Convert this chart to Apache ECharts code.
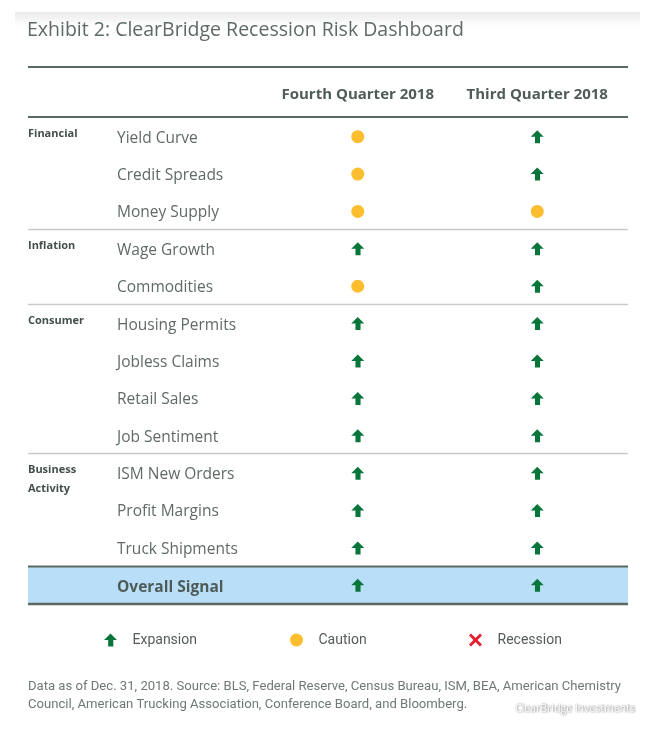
<!DOCTYPE html>
<html><head><meta charset="utf-8">
<script src="https://cdn.jsdelivr.net/npm/echarts@6/dist/echarts.min.js"></script>
<style>html,body{margin:0;padding:0;background:#fff}#c{width:663px;height:734px}</style>
</head><body><div id="c"></div>
<script>
// ---- data ----
const indicators = ['Yield Curve','Credit Spreads','Money Supply','Wage Growth','Commodities','Housing Permits','Jobless Claims','Retail Sales','Job Sentiment','ISM New Orders','Profit Margins','Truck Shipments','Overall Signal'];
const quarters = ['Fourth Quarter 2018','Third Quarter 2018'];
const q4Signals = ['Caution','Caution','Caution','Expansion','Caution','Expansion','Expansion','Expansion','Expansion','Expansion','Expansion','Expansion','Expansion'];
const q3Signals = ['Expansion','Expansion','Caution','Expansion','Expansion','Expansion','Expansion','Expansion','Expansion','Expansion','Expansion','Expansion','Expansion'];
const signalTypes = ['Expansion','Caution','Recession'];
const groupNames = ['Financial','Inflation','Consumer','Business\nActivity'];
const groupFirstRows = ['Yield Curve','Wage Growth','Housing Permits','ISM New Orders'];
const summaryRow = 'Overall Signal';
const titleText = 'Exhibit 2: ClearBridge Recession Risk Dashboard';
const noteLines = ['Data as of Dec. 31, 2018. Source: BLS, Federal Reserve, Census Bureau, ISM, BEA, American Chemistry','Council, American Trucking Association, Conference Board, and Bloomberg.'];
const brandText = 'ClearBridge Investments';

// ---- styles ----
const ARROW = 'path://M6,0L12.5,6.5L8.8,6.5L8.8,13L3.7,13L3.7,6.5L-0.5,6.5Z';
const CROSS = 'path://M0,1.6L1.6,0L5,3.4L8.4,0L10,1.6L6.6,5L10,8.4L8.4,10L5,6.6L1.6,10L0,8.4L3.4,5Z';
const signalStyle = {
  Expansion: {symbol: ARROW, size: [13, 13], color: '#08763a'},
  Caution: {symbol: 'circle', size: 13, color: '#fcbd2f'},
  Recession: {symbol: CROSS, size: 11, color: '#e5202e'}
};
const legendLefts = [99, 285, 464];
const TXT = '#5f6a67';
const RULE = '#5b6965';
const FONT = '"Open Sans", "Noto Sans", sans-serif';
const NARROW = 'Roboto, "Liberation Sans", sans-serif';

const series = signalTypes.map(t => {
  const data = [];
  indicators.forEach((ind, i) => {
    if (q4Signals[i] === t) data.push([quarters[0], ind]);
    if (q3Signals[i] === t) data.push([quarters[1], ind]);
  });
  return {
    type: 'scatter', name: t, data,
    symbol: signalStyle[t].symbol, symbolSize: signalStyle[t].size,
    symbolKeepAspect: true,
    itemStyle: {color: signalStyle[t].color, opacity: 1},
    emphasis: {disabled: true}, z: 5
  };
});

const chart = echarts.init(document.getElementById('c'), null, {renderer: 'canvas'});
chart.setOption({
  animation: false,
  backgroundColor: '#fff',
  title: {text: titleText, left: 22, top: 15,
    textStyle: {fontFamily: FONT, fontSize: 19.5, fontWeight: 'normal', color: '#5e6a67'}},
  grid: {left: 268, right: 36, top: 118, bottom: 130, outerBoundsMode: 'none', containLabel: false},
  xAxis: {type: 'category', data: quarters, position: 'top',
    axisLine: {show: false}, axisTick: {show: false}, splitLine: {show: false},
    axisLabel: {interval: 0, margin: 16, fontFamily: FONT, fontSize: 15, fontWeight: 'bold', color: '#4f5c59'}},
  yAxis: {type: 'category', data: indicators, inverse: true,
    axisLine: {show: false}, axisTick: {show: false}, splitLine: {show: false},
    axisLabel: {interval: 0, margin: 151, align: 'left', fontFamily: FONT, fontSize: 15.5, color: TXT,
      padding: [3, 0, 0, 0],
      formatter: v => v === summaryRow ? '{b|' + v + '}' : v,
      rich: {b: {fontFamily: FONT, fontSize: 15.5, fontWeight: 'bold', color: '#4d5a57', padding: [2, 0, 0, 0]}}}},
  legend: signalTypes.map((t, i) => ({
    data: [{name: t, icon: signalStyle[t].symbol === 'circle' ? 'circle' : signalStyle[t].symbol}],
    top: 628, left: legendLefts[i], itemWidth: 34, itemHeight: 13,
    selectedMode: false,
    textStyle: {fontFamily: NARROW, fontSize: 14, color: '#555c5a'}
  })),
  series
});

// decorations derived from axis scale
const yOf = name => chart.convertToPixel({yAxisIndex: 0}, name);
const band = yOf(indicators[1]) - yOf(indicators[0]);
const L = 28, R = 628;
const g = [];
g.push({type: 'rect', z: -20, shape: {x: 15, y: 12, width: 625, height: 14},
  style: {fill: new echarts.graphic.LinearGradient(0, 0, 0, 1, [{offset: 0, color: '#e9eaea'}, {offset: 1, color: '#ffffff'}])}});
g.push({type: 'line', shape: {x1: L, y1: 67, x2: R, y2: 67}, style: {stroke: RULE, lineWidth: 2}});
const topY = yOf(indicators[0]) - band / 2;
g.push({type: 'line', shape: {x1: L, y1: topY - 1, x2: R, y2: topY - 1}, style: {stroke: RULE, lineWidth: 2}});
groupFirstRows.forEach((r, i) => {
  const c = yOf(r);
  if (i > 0) {
    const by = Math.round(c - band / 2) - 0.5;
    g.push({type: 'line', shape: {x1: L, y1: by, x2: R, y2: by}, style: {stroke: '#c9cccb', lineWidth: 1.5}});
  }
  g.push({type: 'text', x: L, y: c - 12.5, style: {text: groupNames[i], fontFamily: FONT, fontSize: 11, fontWeight: 'bold',
    fill: '#434f4c', lineHeight: 19, verticalAlign: 'top'}});
});
const sc = yOf(summaryRow);
g.push({type: 'rect', z: -10, shape: {x: L, y: sc - band / 2, width: R - L, height: band}, style: {fill: '#b8dff7'}});
g.push({type: 'line', shape: {x1: L, y1: sc - band / 2, x2: R, y2: sc - band / 2}, style: {stroke: RULE, lineWidth: 2}});
g.push({type: 'line', shape: {x1: L, y1: sc + band / 2, x2: R, y2: sc + band / 2}, style: {stroke: RULE, lineWidth: 2.5}});
noteLines.forEach((t, i) => {
  g.push({type: 'text', x: L, y: 687 + i * 18, style: {text: t, fontFamily: NARROW, fontSize: 13.1, fill: '#6e7976', verticalAlign: 'middle'}});
});
g.push({type: 'text', x: 635, y: 709, style: {text: brandText, fontFamily: FONT, fontSize: 10.5, fill: '#ffffff', align: 'right', verticalAlign: 'middle',
  textShadowColor: 'rgba(60,60,60,0.9)', textShadowBlur: 2, textShadowOffsetX: 0.5, textShadowOffsetY: 0.5}});
chart.setOption({graphic: {elements: g}});
</script></body></html>
